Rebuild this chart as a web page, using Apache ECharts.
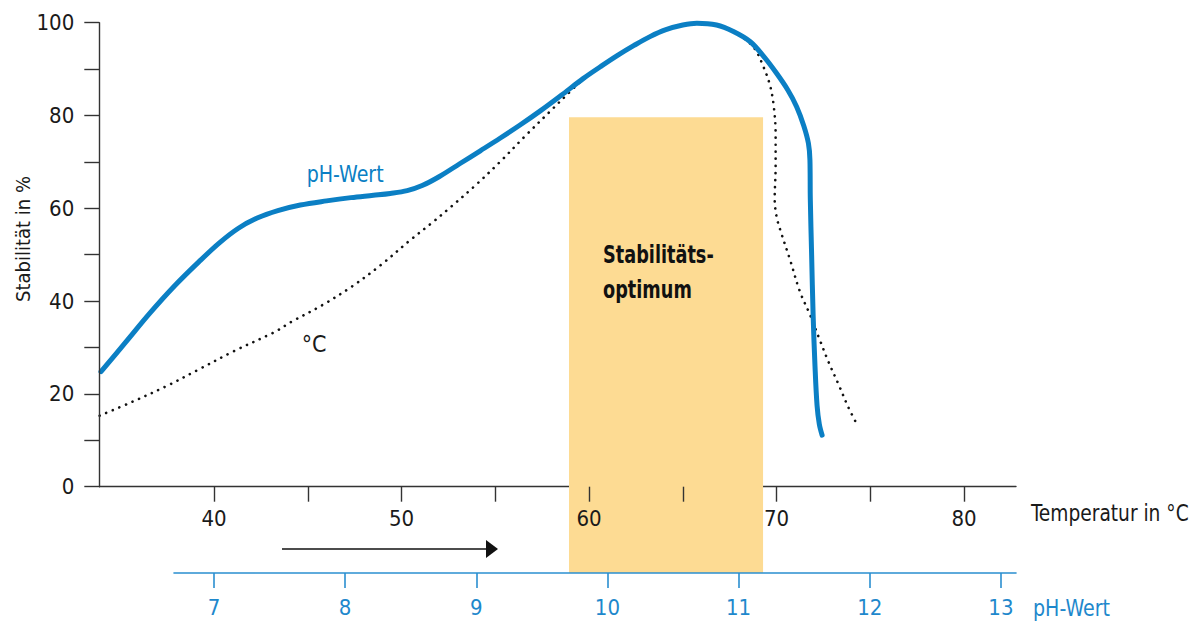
<!DOCTYPE html>
<html>
<head>
<meta charset="utf-8">
<script src="https://cdn.jsdelivr.net/npm/echarts@6/dist/echarts.min.js"></script>
<style>
html,body{margin:0;padding:0;background:#fff;}
#chart{width:1192px;height:622px;}
</style>
</head>
<body>
<div id="chart"></div>
<script>
// ---- data ----
var tempTicks = [40, 45, 50, 55, 60, 65, 70, 75, 80];
var tempLabels = [40, 50, 60, 70, 80];
var phTicks = [7, 8, 9, 10, 11, 12, 13];
var yLabels = [0, 20, 40, 60, 80, 100];

// pH-Wert curve (temperature, stability %)
var phCurve = [
  [33.97, 24.8], [35.3, 31.2], [36.6, 37.5], [37.9, 43.3], [39.2, 48.5],
  [40.3, 52.6], [41.3, 55.7], [42.3, 57.9], [43.4, 59.5], [44.6, 60.7],
  [46.0, 61.6], [47.3, 62.3], [48.5, 62.8], [49.4, 63.2], [50.3, 63.8],
  [51.1, 64.9], [52.0, 66.8], [53.1, 69.6], [54.2, 72.4], [55.25, 75.1],
  [56.3, 77.9], [57.4, 81.0], [58.5, 84.3], [59.7, 88.0], [60.6, 90.5],
  [61.5, 92.9], [62.4, 95.1], [63.25, 97.0], [64.1, 98.5], [65.0, 99.5],
  [65.75, 99.9], [66.8, 99.5], [67.7, 98.1], [68.6, 95.9], [69.3, 92.8],
  [70.0, 89.1], [70.6, 85.5], [71.07, 81.9], [71.45, 77.8], [71.7, 74.0],
  [71.78, 70.4], [71.8, 62.0], [71.87, 50.0], [71.95, 37.0], [72.05, 26.0],
  [72.16, 17.5], [72.28, 13.5], [72.43, 11.1]
];

// Temperature curve (dotted)
var tempCurve = [
  [33.9, 15.3], [35.7, 18.4], [37.47, 21.7], [39.2, 25.3], [41.0, 29.1],
  [43.16, 33.2], [44.2, 35.7], [45.8, 39.2], [47.3, 43.0], [48.9, 47.8],
  [50.45, 53.1], [51.6, 56.8], [52.6, 60.2], [53.9, 64.8], [55.25, 70.0],
  [56.6, 75.6], [58.0, 81.2], [59.0, 85.2], [59.7, 87.8], [60.6, 90.4],
  [61.5, 92.8], [62.4, 95.0], [63.25, 96.9], [64.1, 98.4], [65.0, 99.4],
  [65.75, 99.8], [66.8, 99.4], [67.7, 98.0], [68.3, 96.5], [68.85, 94.3],
  [69.3, 90.5], [69.65, 86.5], [69.85, 82.0], [69.95, 76.0], [69.95, 69.0],
  [69.9, 62.0], [70.0, 58.2], [70.2, 55.3], [70.72, 48.9], [71.25, 42.0],
  [71.79, 37.0], [72.27, 32.0], [72.77, 26.9], [73.3, 22.1], [73.83, 17.1],
  [74.28, 13.5]
];

// Stability optimum band: [temp start, temp end, top %]
var optimumBand = [[58.93, 69.28, 79.6]];

// ---- chart ----
var FONT = '"Liberation Sans Narrow", "DejaVu Sans Condensed", sans-serif';
var BLUE = '#0b7fc4';
var BLUE_AXIS = '#2a8fd0';
var BLUE_TEXT = '#1e88cc';
var AXIS = '#333333';

var chart = echarts.init(document.getElementById('chart'), null, {renderer: 'svg'});

var option = {
  animation: false,
  backgroundColor: '#ffffff',
  textStyle: {fontFamily: FONT},
  grid: [
    {left: 99.3, right: 176, top: 22.7, bottom: 135.3},
    {left: 174, right: 176, top: 572, height: 1}
  ],
  xAxis: [
    {
      type: 'value', gridIndex: 0, min: 33.88, max: 82.77, z: 0,
      axisLine: {show: true, lineStyle: {color: AXIS, width: 1.4}},
      axisTick: {show: false}, axisLabel: {show: false}, splitLine: {show: false}
    },
    {
      type: 'value', gridIndex: 0, min: 33.88, max: 82.77, position: 'bottom', z: 5,
      axisLine: {show: false},
      axisTick: {show: true, customValues: tempTicks, length: 15, lineStyle: {color: AXIS, width: 1.4}},
      axisLabel: {show: true, customValues: tempLabels, margin: 21, fontSize: 22, color: '#1a1a1a', fontFamily: FONT},
      splitLine: {show: false}
    },
    {
      type: 'value', gridIndex: 1, min: 6.695, max: 13.115, position: 'bottom', z: 5,
      axisLine: {show: true, lineStyle: {color: BLUE_AXIS, width: 1.6}},
      axisTick: {show: true, customValues: phTicks, length: 15, lineStyle: {color: BLUE_AXIS, width: 1.6}},
      axisLabel: {show: true, customValues: phTicks, margin: 23, fontSize: 22, color: BLUE_TEXT, fontFamily: FONT},
      splitLine: {show: false}
    }
  ],
  yAxis: [
    {
      type: 'value', gridIndex: 0, min: 0, max: 100, interval: 10, z: 5,
      axisLine: {show: true, lineStyle: {color: AXIS, width: 1.4}},
      axisTick: {show: true, length: 15, lineStyle: {color: AXIS, width: 1.4}},
      axisLabel: {show: true, customValues: yLabels, margin: 25, fontSize: 22, color: '#1a1a1a', fontFamily: FONT},
      splitLine: {show: false}
    },
    {
      type: 'value', gridIndex: 1, min: 0, max: 1, show: false
    }
  ],
  series: [
    {
      type: 'custom', xAxisIndex: 0, yAxisIndex: 0, z: 1, clip: false, silent: true,
      data: optimumBand,
      renderItem: function (params, api) {
        var p1 = api.coord([api.value(0), api.value(2)]);
        var p2 = api.coord([api.value(1), 0]);
        var bottom = params.coordSys.y + params.coordSys.height + 86.3;
        return {
          type: 'rect',
          shape: {x: p1[0], y: p1[1], width: p2[0] - p1[0], height: bottom - p1[1]},
          style: {fill: '#fddb93'}
        };
      }
    },
    {
      type: 'line', xAxisIndex: 0, yAxisIndex: 0, z: 3, data: tempCurve,
      showSymbol: false, smooth: 0.35, clip: false,
      lineStyle: {color: '#111111', width: 2.6, type: [0.1, 7], cap: 'round'}
    },
    {
      type: 'line', xAxisIndex: 0, yAxisIndex: 0, z: 4, data: phCurve,
      showSymbol: false, smooth: 0.35, clip: false,
      lineStyle: {color: BLUE, width: 5, cap: 'round', join: 'round'}
    }
  ],
  graphic: [
    {type: 'text', x: 306.7, y: 174, scaleX: 0.92, z: 10,
      style: {text: 'pH-Wert', fill: BLUE, font: '23px ' + FONT, verticalAlign: 'middle', align: 'left'}},
    {type: 'text', x: 301.7, y: 344, z: 10,
      style: {text: '°C', fill: '#1a1a1a', font: '23px ' + FONT, verticalAlign: 'middle', align: 'left'}},
    {type: 'text', x: 603, y: 255, scaleX: 0.82, z: 10,
      style: {text: 'Stabilitäts-', fill: '#111', font: 'bold 24px ' + FONT, verticalAlign: 'middle', align: 'left'}},
    {type: 'text', x: 603, y: 290, scaleX: 0.82, z: 10,
      style: {text: 'optimum', fill: '#111', font: 'bold 24px ' + FONT, verticalAlign: 'middle', align: 'left'}},
    {type: 'text', x: 1031, y: 513, scaleX: 0.9, z: 10,
      style: {text: 'Temperatur in °C', fill: '#1a1a1a', font: '23px ' + FONT, verticalAlign: 'middle', align: 'left'}},
    {type: 'text', x: 1033, y: 608, scaleX: 0.92, z: 10,
      style: {text: 'pH-Wert', fill: BLUE_TEXT, font: '23px ' + FONT, verticalAlign: 'middle', align: 'left'}},
    {type: 'text', x: 23, y: 239, rotation: Math.PI / 2, z: 10,
      style: {text: 'Stabilität in %', fill: '#1a1a1a', font: '20px ' + FONT, verticalAlign: 'middle', align: 'center'}},
    {type: 'line', z: 10, shape: {x1: 282, y1: 549, x2: 487, y2: 549},
      style: {stroke: '#111', lineWidth: 1.6}},
    {type: 'polygon', z: 10, shape: {points: [[486, 540], [498, 549], [486, 558]]},
      style: {fill: '#111'}}
  ]
};
chart.setOption(option);
</script>
</body>
</html>
